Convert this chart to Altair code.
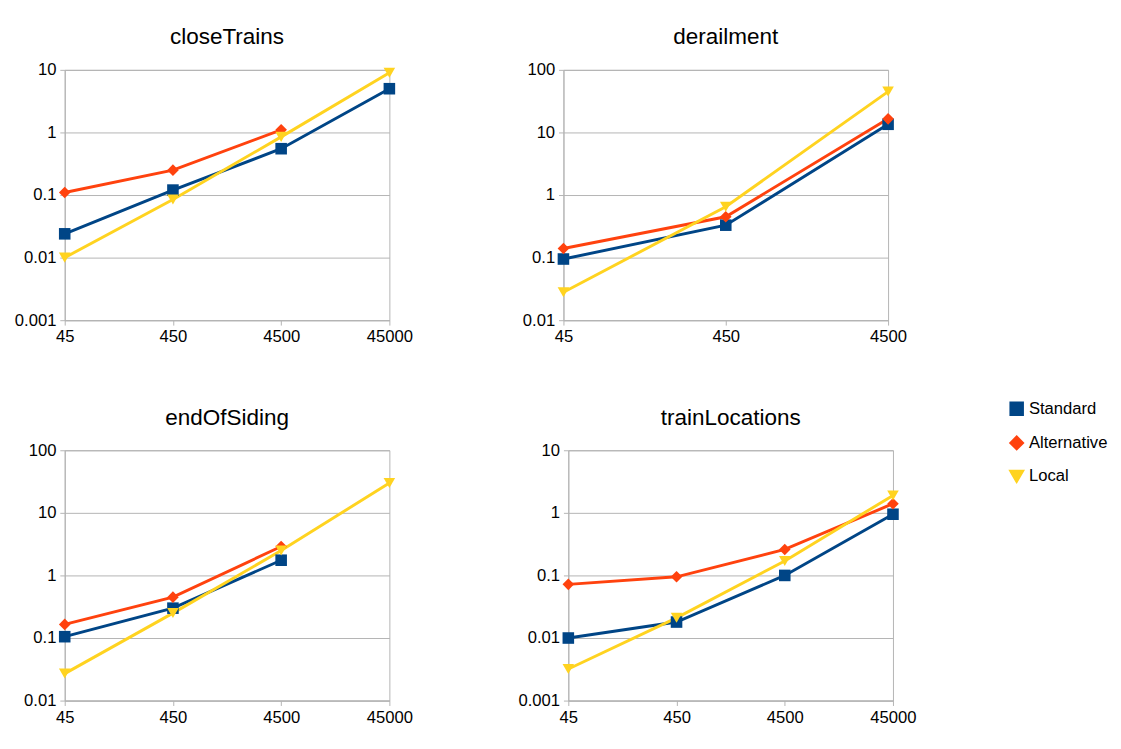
import altair as alt
import pandas as pd

SERIES = ["Standard", "Alternative", "Local"]
COLORS = ["#004586", "#ff420e", "#ffd320"]
SHAPES = ["square", "diamond", "triangle-down"]

# closeTrains
ct_x = [45, 450, 4500, 45000]
ct_std = [0.024, 0.12, 0.55, 5]
ct_alt = [0.11, 0.25, 1.1, None]
ct_loc = [0.01, 0.085, 0.85, 9]

# derailment
de_x = [45, 450, 4500]
de_std = [0.095, 0.33, 13.5]
de_alt = [0.14, 0.45, 16.5]
de_loc = [0.028, 0.65, 45]

# endOfSiding
eo_x = [45, 450, 4500, 45000]
eo_std = [0.105, 0.3, 1.75, None]
eo_alt = [0.165, 0.45, 2.9, None]
eo_loc = [0.027, 0.25, 2.5, 30]

# trainLocations
tl_x = [45, 450, 4500, 45000]
tl_std = [0.01, 0.018, 0.1, 0.95]
tl_alt = [0.072, 0.095, 0.26, 1.4]
tl_loc = [0.0032, 0.021, 0.17, 1.9]


def panel(title, xs, std, alt_, loc, ymin, ymax):
    rows = []
    for name, vals in zip(SERIES, [std, alt_, loc]):
        for x, v in zip(xs, vals):
            if v is not None:
                rows.append({"x": x, "y": v, "series": name})
    df = pd.DataFrame(rows)
    yticks = []
    t = ymin
    while t <= ymax * 1.0001:
        yticks.append(t)
        t *= 10
    base = alt.Chart(df).encode(
        x=alt.X("x:Q", title=None,
                scale=alt.Scale(type="log", domain=[xs[0], xs[-1]], nice=False),
                axis=alt.Axis(values=xs, grid=False, format="d", labelFlush=False)),
        y=alt.Y("y:Q", title=None,
                scale=alt.Scale(type="log", domain=[ymin, ymax], nice=False),
                axis=alt.Axis(values=yticks, format="~g", labelFlush=False)),
        color=alt.Color("series:N", title=None, sort=SERIES,
                        scale=alt.Scale(domain=SERIES, range=COLORS)),
    )
    lines = base.mark_line(strokeWidth=3)
    pts = base.mark_point(filled=True, size=140, opacity=1).encode(
        shape=alt.Shape("series:N", title=None, sort=SERIES,
                        scale=alt.Scale(domain=SERIES, range=SHAPES)))
    return alt.layer(lines, pts).properties(
        title=alt.TitleParams(title, offset=12), width=332, height=256)


top = alt.hconcat(
    panel("closeTrains", ct_x, ct_std, ct_alt, ct_loc, 0.001, 10),
    panel("derailment", de_x, de_std, de_alt, de_loc, 0.01, 100),
    spacing=110,
)
bottom = alt.hconcat(
    panel("endOfSiding", eo_x, eo_std, eo_alt, eo_loc, 0.01, 100),
    panel("trainLocations", tl_x, tl_std, tl_alt, tl_loc, 0.001, 10),
    spacing=105,
)

chart = (
    alt.vconcat(top, bottom, spacing=62)
    .resolve_scale(color="shared", shape="shared")
    .properties(padding={"left": 5, "top": 10, "right": 5, "bottom": 5})
    .configure(font="Liberation Sans")
    .configure_view(stroke="#b3b3b3")
    .configure_axis(labelFontSize=17, labelColor="#000", domainColor="#b3b3b3",
                    tickColor="#b3b3b3", gridColor="#b3b3b3", labelPadding=4)
    .configure_title(fontSize=23, fontWeight="normal", color="#000")
    .configure_legend(orient="none", legendX=965, legendY=338, labelFontSize=17,
                      symbolSize=140, rowPadding=10, symbolStrokeWidth=3)
)

chart.save("out.html", embed_options={"renderer": "svg", "actions": False})
